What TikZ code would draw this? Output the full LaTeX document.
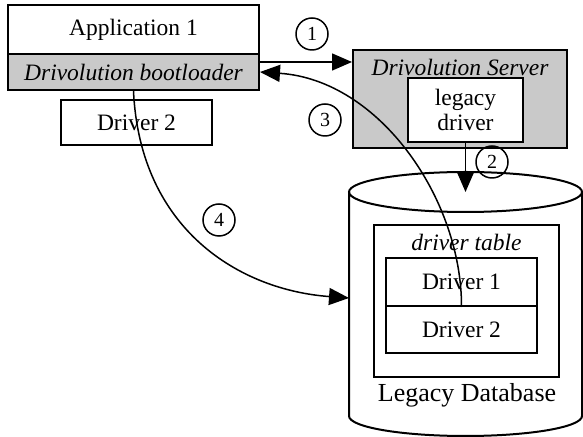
\documentclass[tikz,border=0pt]{standalone}
\usepackage{fontspec}
\setmainfont{Liberation Serif}
\usetikzlibrary{arrows.meta}

\begin{document}
\begin{tikzpicture}[x=1pt,y=1pt]
        \tikzset{box/.style = {shape=rectangle, draw, line width=2pt, inner sep=0pt,
                font=\fontsize{23.5}{25}\selectfont}}
        \tikzset{shaded/.style = {box, fill=gray!42}}
        \tikzset{num/.style = {shape=circle, draw, line width=1.5pt, minimum size=32pt,
                inner sep=0pt, font=\fontsize{20}{20}\selectfont}}
        \tikzset{heading/.style = {inner sep=0pt, font=\fontsize{23.5}{25}\selectfont\itshape}}
        \tikzset{link/.style = {line width=1.5pt, -{Triangle[length=20pt,width=17pt]}}}

        \useasboundingbox (0,0) rectangle (583,436);

        % legacy database
        \draw[line width=2pt] (465.5,244) ellipse [x radius=116.5, y radius=20];
        \draw[line width=2pt] (349,244) -- (349,20)
                arc [start angle=180, end angle=360, x radius=116.5, y radius=20] -- (582,244);
        \coordinate (dbtop) at (465.5,244);
        \coordinate (dbleft) at (349,138);

        \node[box, minimum width=251pt, minimum height=49pt] (app) at (133.5,406.5) {Application 1};
        \node[shaded, minimum width=251pt, minimum height=36pt, font=\fontsize{23.5}{25}\selectfont\itshape] (boot) at (133.5,364) {Drivolution bootloader};
        \node[box, minimum width=151pt, minimum height=45pt] (drv) at (136.5,313.5) {Driver 2};

        \node[shaded, minimum width=214pt, minimum height=98pt] (server) at (460,337) {};
        \node[heading] (srvname) at (460,369) {Drivolution Server};
        \node[box, fill=white, align=center, minimum width=115pt, minimum height=64pt] (legacy) at (465.5,326) {legacy\\driver};

        \node[box, minimum width=185pt, minimum height=152pt] (table) at (466.5,135) {};
        \node[heading] (tabname) at (466.5,194) {driver table};
        \node[box, minimum width=151pt, minimum height=48pt] (tab1) at (461.5,154) {Driver 1};
        \node[box, minimum width=151pt, minimum height=47pt] (tab2) at (461.5,106.5) {Driver 2};
        \node[font=\fontsize{26}{28}\selectfont] (dbname) at (467,41) {Legacy Database};

        \node[num] (n1) at (312,402) {1};
        \node[num] (n2) at (492,274) {2};
        \node[num] (n3) at (325,316) {3};
        \node[num] (n4) at (219,216) {4};

        \draw[link] (boot.east |- 0,374) to (server.west |- 0,374);
        \draw[link] (legacy.south) to (dbtop);
        \draw[link] (tab1.south) .. controls (462,236) and (380,356) .. (boot.east);
        \draw[link] (boot.south) .. controls (140,206) and (240,146) .. (dbleft);
\end{tikzpicture}
\end{document}
